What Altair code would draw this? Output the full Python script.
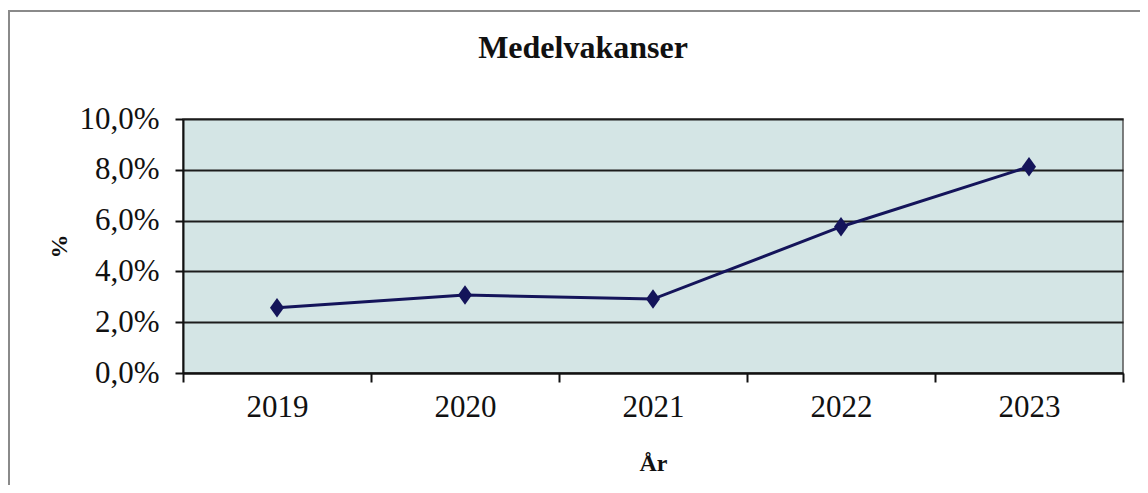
import altair as alt
import pandas as pd

years = ["2019", "2020", "2021", "2022", "2023"]
vacancy = [0.0257, 0.0307, 0.0291, 0.0576, 0.0812]
y_ticks = [0.0, 0.02, 0.04, 0.06, 0.08, 0.10]

df = pd.DataFrame({"year": years, "value": vacancy})

FONT = "Liberation Serif"
NAVY = "#14145a"

x_enc = alt.X(
    "year:O",
    sort=years,
    scale=alt.Scale(type="band", paddingInner=0, paddingOuter=0),
    axis=alt.Axis(
        title="År",
        titleFont=FONT,
        titleFontSize=24,
        titleFontWeight="bold",
        titleColor="#111",
        titleBaseline="alphabetic",
        titleY=97,
        labelAngle=0,
        labelFont=FONT,
        labelFontSize=31,
        labelColor="#111",
        labelPadding=10,
        tickBand="extent",
        tickSize=9,
        tickColor="#111",
        tickWidth=2,
        domainColor="#111",
        domainWidth=2,
        grid=False,
    ),
)

y_enc = alt.Y(
    "value:Q",
    scale=alt.Scale(domain=[0, 0.10], nice=False),
    axis=alt.Axis(
        title="%",
        titleFont=FONT,
        titleFontSize=24,
        titleFontWeight="bold",
        titleColor="#111",
        titleAngle=-90,
        titleAlign="center",
        titleBaseline="middle",
        titleX=-124,
        titleY=127,
        values=y_ticks,
        labelExpr="replace(format(datum.value, '.1%'), '.', ',')",
        labelFont=FONT,
        labelFontSize=31,
        labelColor="#111",
        labelPadding=16,
        tickSize=8,
        tickColor="#111",
        tickWidth=2,
        domainColor="#111",
        domainWidth=2,
        grid=True,
        gridColor="#1c1c1c",
        gridWidth=2,
    ),
)

line = alt.Chart(df).mark_line(color=NAVY, strokeWidth=3).encode(x=x_enc, y=y_enc)
points = alt.Chart(df).mark_point(
    shape="M0,-1L0.72,0L0,1L-0.72,0Z",
    filled=True,
    opacity=1,
    color=NAVY,
    size=380,
).encode(x=alt.X("year:O", sort=years), y="value:Q")

frame = alt.Chart(pd.DataFrame({"a": [0]})).mark_rect(
    fillOpacity=0, stroke="#8a8a8a", strokeWidth=2
).encode(
    x=alt.value(-174),
    x2=alt.value(975),
    y=alt.value(-108),
    y2=alt.value(369),
)

chart = (
    alt.layer(frame, line, points)
    .properties(
        width=940,
        height=254,
        padding={"left": 175, "top": 111, "right": 17, "bottom": 112},
        autosize=alt.AutoSizeParams(type="none"),
        background="white",
        title=alt.TitleParams(
            "Medelvakanser",
            font=FONT,
            fontSize=32,
            fontWeight="bold",
            color="#111",
            anchor="middle",
            frame="group",
            dx=-70,
            dy=80,
            baseline="alphabetic",
            offset=0,
        ),
    )
    .configure_view(fill="#d4e5e5", stroke="#555", strokeWidth=1.5)
)

chart.save("out.html", embed_options={"renderer": "svg", "actions": False})
